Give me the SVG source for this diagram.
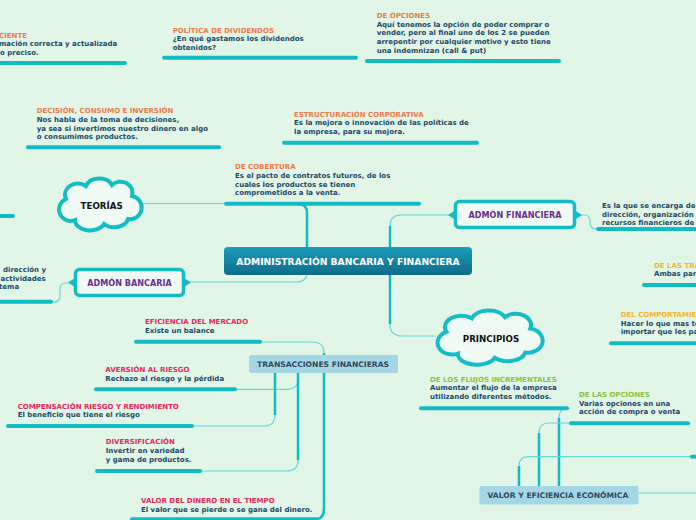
<svg xmlns="http://www.w3.org/2000/svg" width="696" height="520" viewBox="0 0 696 520">
<defs>
<linearGradient id="cg" x1="0" y1="0" x2="0" y2="1">
<stop offset="0" stop-color="#1b9dbb"/>
<stop offset="1" stop-color="#0f6c88"/>
</linearGradient>
<style>
text{font-family:"DejaVu Sans",Verdana,sans-serif;font-weight:bold;font-size:7px}
.or{fill:#ef7a4a}.pk{fill:#e4285c}.gr{fill:#88c442}.yl{fill:#f2b532}.bd{fill:#1b4a6b}
.bar{stroke:#12bcc5;stroke-width:4;stroke-linecap:round;fill:none}
.thk{stroke:#12bcc5;stroke-width:2.5;fill:none}
.thn{stroke:#66d9da;stroke-width:1.2;fill:none}
.cloud{fill:#f1fbf6;stroke:#14bdc6;stroke-width:4}
.box{fill:#f1fbf6;stroke:#12bcc5;stroke-width:3.5}
.tab{fill:#12bcc5}
.lb{fill:#a4d6e5}
.lbt{fill:#2f4a5c;font-size:7.6px}
.pur{fill:#6a2c8e;font-size:8.1px}
.cl{fill:#111;font-size:8.7px}
.ct{fill:#ffffff;font-size:9.2px}
</style>
</defs>
<rect width="696" height="520" fill="#e1f6e7"/>

<g id="connectors">
<path class="thn" d="M142,203.5 H226"/>
<path class="thk" d="M298,204 Q307,204 307,213 V262"/>
<path class="thn" d="M307,262 V272 Q307,282 297,282 H190"/>
<path class="thn" d="M453,215 H401 Q390,215 390,226"/>
<path class="thk" d="M390,226 V324"/>
<path class="thn" d="M390,324 Q390,336 402,336 H436"/>
<path class="thn" d="M578,215 H584 Q590,215 590,221 V223 Q590,229 597,229"/>
<path class="thn" d="M51,302 H54 Q60,302 60,296 V289 Q60,283 66,283 H70"/>
<path class="thn" d="M260,342 H313 Q324,342 324,353"/>
<path class="thk" d="M324,353 V508 Q324,519 316,519"/>
<path class="thn" d="M235,389.3 H288 Q298,389 298,379"/>
<path class="thk" d="M298,373 V460"/>
<path class="thn" d="M298,460 Q298,471 287,471 H200"/>
<path class="thk" d="M275,373 V415"/>
<path class="thn" d="M275,415 Q275,426 264,426 H192"/>
<path class="thk" d="M559,486 V418"/>
<path class="thn" d="M559,418 Q559,408 569,408"/>
<path class="thk" d="M539,486 V433"/>
<path class="thn" d="M539,433 Q539,423 549,423 H571"/>
<path class="thk" d="M519,486 V466"/>
<path class="thn" d="M519,466 Q519,456.7 529,456.7 H690"/>
<path class="thn" d="M638.5,493 H696"/>
</g>

<g id="n-eficiente">
<text class="or" x="-1" y="37.5">CIENTE</text>
<text class="bd" x="-1" y="46">mación correcta y actualizada</text>
<text class="bd" x="0" y="54.5">o preciso.</text>
<path class="bar" d="M-2,63 H125"/>
</g>

<g id="n-dividendos">
<text class="or" x="172.7" y="32.5">POLÍTICA DE DIVIDENDOS</text>
<text class="bd" x="172.7" y="41.2">¿En qué gastamos los dividendos</text>
<text class="bd" x="172.7" y="49.7">obtenidos?</text>
<path class="bar" d="M164,57.7 H356"/>
</g>

<g id="n-opciones">
<text class="or" x="376.7" y="18">DE OPCIONES</text>
<text class="bd" x="376.7" y="26.7">Aquí tenemos la opción de poder comprar o</text>
<text class="bd" x="376.7" y="35.3">vender, pero al final uno de los 2 se pueden</text>
<text class="bd" x="376.7" y="44">arrepentir por cualquier motivo y esto tiene</text>
<text class="bd" x="376.7" y="52.6">una indemnizan (call &amp; put)</text>
<path class="bar" d="M367,61 H559"/>
</g>

<g id="n-decision">
<text class="or" x="36.7" y="113">DECISIÓN, CONSUMO E INVERSIÓN</text>
<text class="bd" x="36.7" y="122">Nos habla de la toma de decisiones,</text>
<text class="bd" x="36.7" y="130.5">ya sea si invertimos nuestro dinero en algo</text>
<text class="bd" x="36.7" y="139">o consumimos productos.</text>
<path class="bar" d="M28,147.3 H219"/>
</g>

<g id="n-estructuracion">
<text class="or" x="294" y="116.5">ESTRUCTURACIÓN CORPORATIVA</text>
<text class="bd" x="294" y="125">Es la mejora o innovación de las políticas de</text>
<text class="bd" x="294" y="133.5">la empresa, para su mejora.</text>
<path class="bar" d="M284,142.7 H477"/>
</g>

<g id="n-cobertura">
<text class="or" x="235" y="169">DE COBERTURA</text>
<text class="bd" x="235" y="178">Es el pacto de contratos futuros, de los</text>
<text class="bd" x="235" y="186.5">cuales los productos se tienen</text>
<text class="bd" x="235" y="195">comprometidos a la venta.</text>
<path class="bar" d="M226,203.7 H419"/>
</g>

<g id="n-left-teorias">
<path class="bar" d="M-2,216 H13"/>
</g>

<g id="n-teorias">
<path class="cloud" d="M75,220 A11,11 0 0 1 66,199 A13,11 0 0 1 86,186 A14,11 0 0 1 112,185 A12,11 0 0 1 132,196 A11,11 0 0 1 128,219 A14,10 0 0 1 104,224 A15,10 0 0 1 75,220 Z"/>
<text class="cl" x="101.7" y="209" text-anchor="middle">TEORÍAS</text>
</g>

<g id="n-central">
<rect x="224" y="247" width="248" height="28" rx="4" fill="url(#cg)"/>
<text class="ct" x="348" y="264.5" text-anchor="middle">ADMINISTRACIÓN BANCARIA Y FINANCIERA</text>
</g>

<g id="n-bancaria">
<polygon class="tab" points="75,278 68,282.5 75,287"/>
<polygon class="tab" points="184,278 191,282.5 184,287"/>
<rect class="box" x="75.5" y="269.5" width="108" height="26" rx="4"/>
<text class="pur" x="129.5" y="286" text-anchor="middle">ADMÓN BANCARIA</text>
</g>

<g id="n-bancaria-def">
<text class="bd" x="3" y="272">dirección y</text>
<text class="bd" x="0.5" y="280.5">actividades</text>
<text class="bd" x="-1" y="289">tema</text>
<path class="bar" d="M-2,301.7 H51"/>
</g>

<g id="n-financiera">
<polygon class="tab" points="455,210.5 448,215 455,219.5"/>
<polygon class="tab" points="575,210.5 582,215 575,219.5"/>
<rect class="box" x="455.5" y="201.5" width="119" height="26" rx="4"/>
<text class="pur" x="515" y="218" text-anchor="middle">ADMÓN FINANCIERA</text>
</g>

<g id="n-financiera-def">
<text class="bd" x="602" y="208">Es la que se encarga de</text>
<text class="bd" x="602" y="216.5">dirección, organización</text>
<text class="bd" x="602" y="225">recursos financieros de</text>
<path class="bar" d="M598,229 H698"/>
</g>

<g id="n-transparencia">
<text class="yl" x="654" y="267.5">DE LAS TRA</text>
<text class="bd" x="654" y="276">Ambas par</text>
<path class="bar" d="M644,285 H698"/>
</g>

<g id="n-comportamiento">
<text class="yl" x="620.7" y="316.7">DEL COMPORTAMIE</text>
<text class="bd" x="620.7" y="325.5">Hacer lo que mas te</text>
<text class="bd" x="620.7" y="334">importar que les pa</text>
<path class="bar" d="M611,343.3 H698"/>
</g>

<g id="n-principios">
<path class="cloud" d="M457.9,353.6 A14,11.4 0 0 1 446.4,331.8 A16.5,11.4 0 0 1 471.8,318.2 A17.8,11.4 0 0 1 504.9,317.2 A15.2,11.4 0 0 1 530.3,328.6 A14,11.4 0 0 1 525.2,352.6 A17.8,10.4 0 0 1 494.7,357.8 A19,10.4 0 0 1 457.9,353.6 Z"/>
<text class="cl" x="491" y="342" text-anchor="middle">PRINCIPIOS</text>
</g>

<g id="n-transacciones">
<rect class="lb" x="249" y="355" width="149" height="18" rx="2"/>
<text class="lbt" x="257" y="367">TRANSACCIONES FINANCIERAS</text>
</g>

<g id="n-eficiencia">
<text class="pk" x="145" y="324">EFICIENCIA DEL MERCADO</text>
<text class="bd" x="145" y="332.7">Existe un balance</text>
<path class="bar" d="M136,341.7 H260"/>
</g>

<g id="n-aversion">
<text class="pk" x="105.3" y="371.7">AVERSIÓN AL RIESGO</text>
<text class="bd" x="105.3" y="380.7"> Rechazo al riesgo y la pérdida</text>
<path class="bar" d="M96,389.3 H235"/>
</g>

<g id="n-compensacion">
<text class="pk" x="17.7" y="409">COMPENSACIÓN RIESGO Y RENDIMIENTO</text>
<text class="bd" x="17.7" y="417">El beneficio que tiene el riesgo</text>
<path class="bar" d="M8,426 H192"/>
</g>

<g id="n-diversificacion">
<text class="pk" x="105.7" y="444.3">DIVERSIFICACIÓN</text>
<text class="bd" x="105.7" y="453.3">Invertir en variedad</text>
<text class="bd" x="105.7" y="461.8">y gama de productos.</text>
<path class="bar" d="M97,471 H200"/>
</g>

<g id="n-valor-dinero">
<text class="pk" x="141" y="502.7">VALOR DEL DINERO EN EL TIEMPO</text>
<text class="bd" x="141" y="511.7">El valor que se pierde o se gana del dinero.</text>
<path class="bar" d="M132,519.3 H316"/>
</g>

<g id="n-valor-eficiencia">
<rect class="lb" x="479.5" y="486" width="159" height="18.5" rx="2"/>
<text class="lbt" x="487.5" y="498">VALOR Y EFICIENCIA ECONÓMICA</text>
</g>

<g id="n-flujos">
<text class="gr" x="430" y="381.7">DE LOS FLUJOS INCREMENTALES</text>
<text class="bd" x="430" y="390">Aumentar el flujo de la empresa</text>
<text class="bd" x="430" y="398.5">utilizando diferentes métodos.</text>
<path class="bar" d="M421,408.3 H567"/>
</g>

<g id="n-de-las-opciones">
<text class="gr" x="579" y="397.3">DE LAS OPCIONES</text>
<text class="bd" x="579" y="405.8">Varias opciones en una</text>
<text class="bd" x="579" y="414.3">acción de compra o venta</text>
<path class="bar" d="M571,423.3 H688"/>
</g>

<g id="n-right-edge">
<path class="bar" d="M692,456.7 H700"/>
</g>
</svg>
